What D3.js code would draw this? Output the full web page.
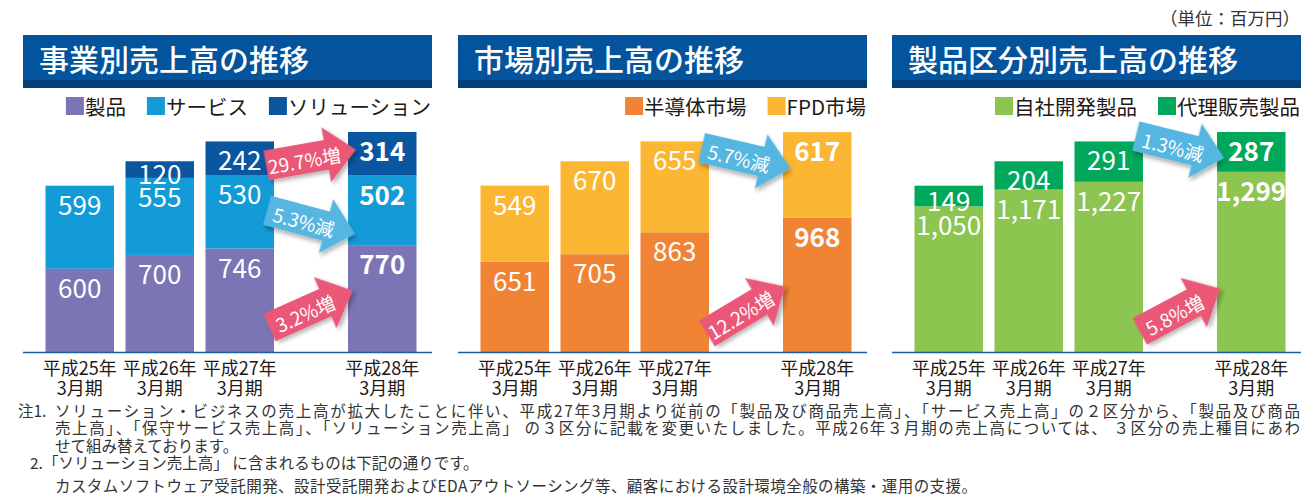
<!DOCTYPE html>
<html>
<head>
<meta charset="utf-8">
<script src="https://cdn.jsdelivr.net/npm/d3@7"></script>
<style>
	body { margin: 0; background: #fff; overflow: hidden; }
	svg text { font-family: "Noto Sans CJK JP", "Noto Sans", sans-serif; }
</style>
</head>
<body>
<svg id="salesChart"></svg>
<script>
// data (単位：百万円)
var periods = ["平成25年", "平成26年", "平成27年", "平成28年"];
var periodSuffix = "3月期";

var businessSeries = ["製品", "サービス", "ソリューション"];
var businessProducts = [600, 700, 746, 770];
var businessServices = [599, 555, 530, 502];
var businessSolutions = [0, 120, 242, 314];
var businessChanges = ["29.7%増", "5.3%減", "3.2%増"];

var marketSeries = ["半導体市場", "FPD市場"];
var marketSemiconductor = [651, 705, 863, 968];
var marketFpd = [549, 670, 655, 617];
var marketChanges = ["5.7%減", "12.2%増"];

var productSeries = ["自社開発製品", "代理販売製品"];
var productOwn = [1050, 1171, 1227, 1299];
var productAgency = [149, 204, 291, 287];
var productChanges = ["1.3%減", "5.8%増"];

var unitLabel = "（単位：百万円）";
var noteLines = [
	"ソリューション・ビジネスの売上高が拡大したことに伴い、平成27年3月期より従前の「製品及び商品売上高」、「サービス売上高」の２区分から、「製品及び商品",
	"売上高」、「保守サービス売上高」、「ソリューション売上高」 の３区分に記載を変更いたしました。平成26年３月期の売上高については、 ３区分の売上種目にあわ",
	"せて組み替えております。",
	"「ソリューション売上高」 に含まれるものは下記の通りです。",
	"カスタムソフトウェア受託開発、設計受託開発およびEDAアウトソーシング等、顧客における設計環境全般の構築・運用の支援。"
];

var width = 1301, height = 495;
var svg = d3.select("#salesChart").attr("width", width).attr("height", height);

var defs = svg.append("defs");
defs.append("filter")
	.attr("id", "arrowShadow")
	.attr("x", "-30%").attr("y", "-30%").attr("width", "160%").attr("height", "160%")
	.append("feDropShadow")
	.attr("dx", 2).attr("dy", 3)
	.attr("stdDeviation", 2.2)
	.attr("flood-color", "#000")
	.attr("flood-opacity", 0.3);

var baseY = 352;
var allTotals = [];
periods.forEach(function(p, i) {
	allTotals.push(businessProducts[i] + businessServices[i] + businessSolutions[i]);
	allTotals.push(marketSemiconductor[i] + marketFpd[i]);
	allTotals.push(productOwn[i] + productAgency[i]);
});
var yScale = d3.scaleLinear().domain([0, d3.max(allTotals)]).range([baseY, 132]);

class SalesPanel {
	constructor(left, panelWidth, title, series, columns, colors, changes, arrowLayout) {
		this.left = left;
		this.width = panelWidth;
		this.title = title;
		this.series = series;
		this.colors = colors;
		this.changes = changes;
		this.arrowLayout = arrowLayout;

		this.rows = periods.map(function(p, i) {
			var row = { period: p };
			series.forEach(function(s, j) { row[s] = columns[j][i]; });
			return row;
		});

		this.g = svg.append("g").attr("transform", "translate(" + left + ",0)");

		// last period sits apart from the first three
		this.xScale = d3.scaleBand()
			.domain(periods)
			.range([22.5, 331])
			.paddingInner(0.14375)
			.paddingOuter(0);
		this.lastGap = 62.5;

		this.drawTitle();
		this.drawLegend();
		this.drawBars();
		this.drawAxis();
		this.drawArrows();
	}

	barX(p) {
		return this.xScale(p) + (p === periods[periods.length - 1] ? this.lastGap : 0);
	}

	drawTitle() {
		this.g.append("rect")
			.attr("x", 0).attr("y", 35)
			.attr("width", this.width).attr("height", 53)
			.attr("fill", "#03549d");
		this.g.append("rect")
			.attr("x", 0).attr("y", 80)
			.attr("width", this.width).attr("height", 8)
			.attr("fill", "#023e77");
		this.g.append("text")
			.attr("x", 16).attr("y", 58)
			.attr("dominant-baseline", "central")
			.attr("font-size", 30)
			.attr("font-weight", 500)
			.attr("fill", "#fff")
			.text(this.title);
	}

	drawLegend() {
		var right = this.width - 1;
		var legend = this.g.append("g").attr("class", "legend");
		for (var i = this.series.length - 1; i >= 0; i--) {
			var label = legend.append("text")
				.attr("x", right).attr("y", 106)
				.attr("text-anchor", "end")
				.attr("dominant-baseline", "central")
				.attr("font-size", 20.5)
				.attr("fill", "#231815")
				.text(this.series[i]);
			var w = label.node().getComputedTextLength();
			legend.append("rect")
				.attr("x", right - w - 19).attr("y", 97)
				.attr("width", 18).attr("height", 18)
				.attr("fill", this.colors[i]);
			right = right - w - 19 - 21;
		}
	}

	drawBars() {
		var stacked = d3.stack().keys(this.series)(this.rows);
		var self = this;
		var bw = this.xScale.bandwidth();
		var lastPeriod = periods[periods.length - 1];

		var layers = this.g.selectAll(".layer")
			.data(stacked)
			.enter()
			.append("g")
			.attr("class", "layer")
			.attr("fill", function(d, i) { return self.colors[i]; });

		layers.selectAll("rect")
			.data(function(d) { return d.filter(function(s) { return s[1] > s[0]; }); })
			.enter()
			.append("rect")
			.attr("x", function(d) { return self.barX(d.data.period); })
			.attr("y", function(d) { return yScale(d[1]); })
			.attr("width", bw)
			.attr("height", function(d) { return yScale(d[0]) - yScale(d[1]); });

		var labels = [];
		stacked.forEach(function(layer) {
			layer.forEach(function(s) {
				if (s[1] > s[0]) labels.push(s);
			});
		});

		this.g.selectAll(".valueLabel")
			.data(labels)
			.enter()
			.append("text")
			.attr("class", "valueLabel")
			.attr("x", function(d) { return self.barX(d.data.period) + bw / 2; })
			.attr("y", function(d) {
				var h = yScale(d[0]) - yScale(d[1]);
				return yScale(d[1]) + Math.min(17.5, h / 2 + 3);
			})
			.attr("text-anchor", "middle")
			.attr("dominant-baseline", "central")
			.attr("font-size", 26)
			.attr("font-weight", function(d) { return d.data.period === lastPeriod ? 700 : 400; })
			.attr("fill", "#fff")
			.text(function(d) { return d3.format(",")(d[1] - d[0]); });
	}

	drawAxis() {
		var self = this;
		var bw = this.xScale.bandwidth();
		this.g.append("line")
			.attr("x1", 0).attr("x2", this.width)
			.attr("y1", baseY + 0.5).attr("y2", baseY + 0.5)
			.attr("stroke", "#1f5ea6")
			.attr("stroke-width", 1.6);

		var ticks = this.g.selectAll(".tick")
			.data(periods)
			.enter()
			.append("text")
			.attr("class", "tick")
			.attr("text-anchor", "middle")
			.attr("font-size", 18)
			.attr("fill", "#231815");
		ticks.append("tspan")
			.attr("x", function(d) { return self.barX(d) + bw / 2; })
			.attr("y", 367)
			.attr("dominant-baseline", "central")
			.text(function(d) { return d; });
		ticks.append("tspan")
			.attr("x", function(d) { return self.barX(d) + bw / 2; })
			.attr("y", 387)
			.attr("dominant-baseline", "central")
			.text(periodSuffix);
	}

	drawArrows() {
		var self = this;
		var bw = this.xScale.bandwidth();
		var cx = (this.barX(periods[2]) + bw + this.barX(periods[3])) / 2;
		var L = 91, t = 30, hl = 30, hw = 28;
		var shape = [
			[-L / 2, -t / 2], [L / 2 - hl, -t / 2], [L / 2 - hl, -hw], [L / 2, 0],
			[L / 2 - hl, hw], [L / 2 - hl, t / 2], [-L / 2, t / 2]
		];

		var arrows = this.g.selectAll(".changeArrow")
			.data(this.changes)
			.enter()
			.append("g")
			.attr("class", "changeArrow")
			.attr("transform", function(d, i) {
				var a = self.arrowLayout[i];
				return "translate(" + cx + "," + yScale(a.at) + ") rotate(" + a.angle + ")";
			});
		arrows.append("path")
			.attr("d", d3.line()(shape) + "Z")
			.attr("fill", function(d) { return d.indexOf("増") >= 0 ? "#eb5877" : "#55b6e1"; })
			.attr("filter", "url(#arrowShadow)");
		arrows.append("text")
			.attr("x", -7).attr("y", 1)
			.attr("text-anchor", "middle")
			.attr("dominant-baseline", "central")
			.attr("font-size", 19)
			.attr("fill", "#fff")
			.text(function(d) { return d; });
	}
}

new SalesPanel(23, 409, "事業別売上高の推移", businessSeries,
	[businessProducts, businessServices, businessSolutions],
	["#7b74b5", "#139bd8", "#0a56a0"], businessChanges,
	[{ at: 1402, angle: -10 }, { at: 937, angle: 15 }, { at: 310, angle: -24 }]);

new SalesPanel(458, 409, "市場別売上高の推移", marketSeries,
	[marketSemiconductor, marketFpd],
	["#f18335", "#fbb633"], marketChanges,
	[{ at: 1399, angle: 13 }, { at: 303, angle: -31 }]);

new SalesPanel(892, 409, "製品区分別売上高の推移", productSeries,
	[productOwn, productAgency],
	["#8cc54f", "#00a85b"], productChanges,
	[{ at: 1478, angle: 14 }, { at: 303, angle: -28 }]);

svg.append("text")
	.attr("x", 1300).attr("y", 17)
	.attr("text-anchor", "end")
	.attr("dominant-baseline", "central")
	.attr("font-size", 17.5)
	.attr("fill", "#333")
	.text(unitLabel);

// footnotes
var notes = svg.append("g").attr("font-size", 15.5).attr("fill", "#333");
notes.append("text").attr("x", 18).attr("y", 410).attr("dominant-baseline", "central").text("注1.");
notes.append("text").attr("x", 30).attr("y", 462).attr("dominant-baseline", "central").text("2.");
var noteX = [55, 55, 55, 43, 55];
var noteY = [410, 427, 445, 462, 485];
notes.selectAll(".noteLine")
	.data(noteLines)
	.enter()
	.append("text")
	.attr("class", "noteLine")
	.attr("x", function(d, i) { return noteX[i]; })
	.attr("y", function(d, i) { return noteY[i]; })
	.attr("dominant-baseline", "central")
	.attr("textLength", function(d, i) { return i < 2 ? 1245 : (i === 4 ? 922 : null); })
	.attr("lengthAdjust", "spacing")
	.text(function(d) { return d; });
</script>
</body>
</html>
